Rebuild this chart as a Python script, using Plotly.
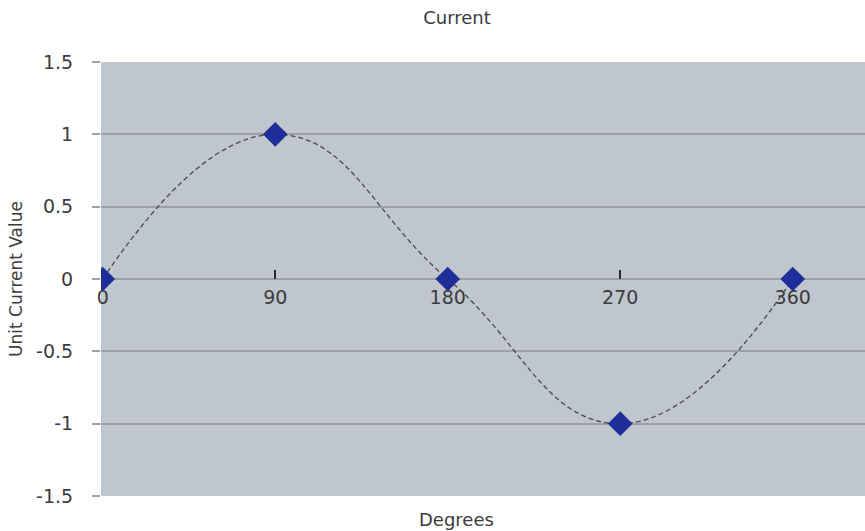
import plotly.graph_objects as go

# Phase angle samples and unit current
degrees = [0, 90, 180, 270, 360]
current = [0, 1, 0, -1, 0]

y_ticks = [1.5, 1, 0.5, 0, -0.5, -1, -1.5]
y_tick_labels = ["1.5", "1", "0.5", "0", "-0.5", "-1", "-1.5"]
x_ticks = [0, 90, 180, 270, 360]
x_tick_labels = ["0", "90", "180", "270", "360"]

FONT = "DejaVu Sans"
TEXT = "#3c3c3c"
GRID = "#9aa0a6"

fig = go.Figure()
fig.add_trace(go.Scatter(
    x=degrees,
    y=current,
    mode="lines+markers",
    line=dict(color="#4a4a4a", width=1.3, dash="5px,3px", shape="spline", smoothing=1.3),
    marker=dict(symbol="diamond", size=19, color="#1f2e98",
                line=dict(color="#1f2e98", width=0)),
    showlegend=False,
))

fig.update_layout(
    width=865,
    height=531,
    margin=dict(l=101, r=0, t=62, b=35),
    paper_bgcolor="white",
    plot_bgcolor="#bfc6cd",
    font=dict(family=FONT, size=19, color=TEXT),
    title=dict(text="Current", x=457 / 865, xref="container", xanchor="center",
               y=1 - 18 / 531, yref="container", yanchor="middle",
               font=dict(family=FONT, size=18, color=TEXT)),
    xaxis=dict(
        anchor="free",
        position=0.5,
        range=[-0.9, 397.7],
        tickmode="array",
        tickvals=x_ticks,
        ticktext=x_tick_labels,
        ticks="inside",
        ticklen=9,
        tickwidth=1.5,
        tickcolor="#2a2a2a",
        showgrid=False,
        showline=False,
        zeroline=False,
        layer="below traces",
        ticklabelstandoff=5,
        tickfont=dict(family=FONT, size=19, color=TEXT),
    ),
    yaxis=dict(
        range=[-1.5, 1.5],
        tickmode="array",
        tickvals=y_ticks,
        ticktext=y_tick_labels,
        ticks="outside",
        ticklen=8,
        tickwidth=1.5,
        tickcolor=GRID,
        showgrid=True,
        gridcolor=GRID,
        gridwidth=1.8,
        zeroline=True,
        zerolinecolor=GRID,
        zerolinewidth=1.8,
        showline=False,
        ticklabelstandoff=15,
        tickfont=dict(family=FONT, size=19, color=TEXT),
        title=dict(text="Unit Current Value", standoff=9,
                   font=dict(family=FONT, size=17, color=TEXT)),
        automargin=False,
    ),
    annotations=[dict(
        text="Degrees", x=(456 - 101) / 764, y=-(520 - 496.5) / 434.5,
        xref="paper", yref="paper", xanchor="center", yanchor="middle",
        showarrow=False, font=dict(family=FONT, size=18, color=TEXT),
    )],
)

fig.write_html("out.html")
